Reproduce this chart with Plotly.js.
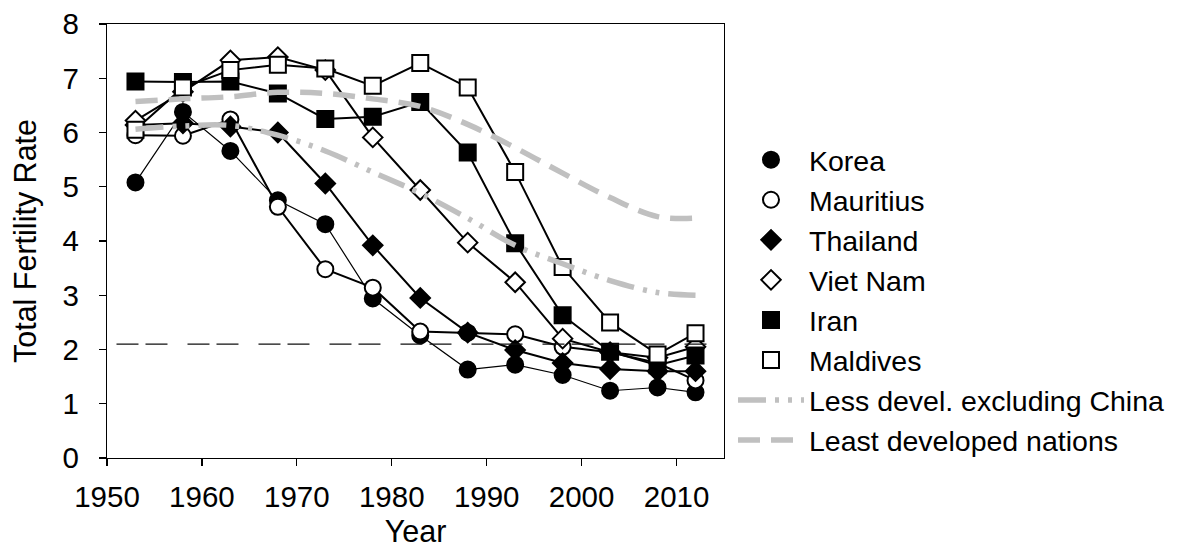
<!DOCTYPE html>
<html>
<head>
<meta charset="utf-8">
<script src="https://cdn.plot.ly/plotly-3.0.1.min.js"></script>
<style>html,body{margin:0;padding:0;background:#fff;}#chart{width:1185px;height:548px;}</style>
</head>
<body>
<div id="chart"></div>
<script>
const years = [1953,1958,1963,1968,1973,1978,1983,1988,1993,1998,2003,2008,2012];
const korea     = [5.08,6.38,5.66,4.75,4.31,2.94,2.26,1.63,1.72,1.53,1.24,1.30,1.21];
const mauritius = [5.95,5.94,6.24,4.63,3.48,3.14,2.33,2.31,2.28,2.05,1.95,1.75,1.43];
const thailand  = [6.14,6.17,6.11,6.00,5.06,3.92,2.95,2.31,1.99,1.75,1.64,1.60,1.60];
const vietnam   = [6.22,6.75,7.33,7.39,7.15,5.91,4.94,3.97,3.24,2.20,1.95,1.85,2.05];
const iran      = [6.94,6.93,6.94,6.72,6.25,6.29,6.56,5.63,3.96,2.63,1.96,1.71,1.89];
const maldives  = [6.05,6.83,7.15,7.25,7.18,6.86,7.28,6.83,5.27,3.52,2.50,1.91,2.30];
const lessDevelExChina = [6.06,6.12,6.13,5.95,5.66,5.27,4.88,4.42,3.92,3.58,3.27,3.05,3.00];
const leastDeveloped   = [6.57,6.62,6.66,6.74,6.72,6.62,6.48,6.15,5.72,5.25,4.80,4.45,4.42];
const replacementYears = [1951, 2013.5];
const replacementLevel = [2.1, 2.1];
const xTicks = [1950,1960,1970,1980,1990,2000,2010];
const yTicks = [0,1,2,3,4,5,6,7,8];

const FONT = 'Liberation Sans, Arial, sans-serif';
const countries = [
  {name:'Korea', y:korea, symbol:'circle', fill:'#000', size:16, lw:1.2},
  {name:'Mauritius', y:mauritius, symbol:'circle', fill:'#fff', size:16, lw:2},
  {name:'Thailand', y:thailand, symbol:'diamond', fill:'#000', size:15, lw:2},
  {name:'Viet Nam', y:vietnam, symbol:'diamond', fill:'#fff', size:15, lw:2},
  {name:'Iran', y:iran, symbol:'square', fill:'#000', size:16, lw:2},
  {name:'Maldives', y:maldives, symbol:'square', fill:'#fff', size:16, lw:2}
];
const traces = [];
countries.forEach(c => {
  traces.push({x:years, y:c.y, mode:'lines', showlegend:false, hoverinfo:'skip',
    line:{color:'#000', width:c.lw}});
  traces.push({x:years, y:c.y, mode:'markers', name:c.name,
    marker:{symbol:c.symbol, size:c.size, color:c.fill, line:{color:'#000', width:2}}});
});
traces.push({x:replacementYears, y:replacementLevel, mode:'lines', showlegend:false,
  line:{color:'#111', width:1.3, dash:'22px,7px,22px,20px'}});
traces.push({x:years, y:lessDevelExChina, mode:'lines', name:'Less devel. excluding China',
  line:{color:'#c0c0c0', width:5.5, shape:'spline', dash:'28px,9px,4px,9px,4px,9px'}});
traces.push({x:years, y:leastDeveloped, mode:'lines', name:'Least developed nations',
  line:{color:'#c0c0c0', width:5.5, shape:'spline', dash:'22px,11px'}});

const axisCommon = {showline:true, linecolor:'#000', linewidth:1.2, mirror:true,
  ticks:'outside', ticklen:7, tickcolor:'#000', tickwidth:1.2, showgrid:false, zeroline:false,
  tickfont:{family:FONT, size:29.5, color:'#000'}};

const layout = {
  width:1185, height:548,
  margin:{l:107, r:461, t:24, b:90, pad:0},
  paper_bgcolor:'#fff', plot_bgcolor:'#fff',
  font:{family:FONT, color:'#000', size:28},
  showlegend:true,
  legend:{x:1.0146, xanchor:'left', y:0.745, yanchor:'top', font:{family:FONT, size:28.5, color:'#000'},
    bgcolor:'rgba(0,0,0,0)', itemwidth:66, tracegroupgap:0},
  xaxis:Object.assign({}, axisCommon, {range:[1950,2015], tickvals:xTicks, ticklabelstandoff:5,
    title:{text:'Year', font:{family:FONT, size:30.5, color:'#000'}, standoff:17}}),
  yaxis:Object.assign({}, axisCommon, {range:[0,8], tickvals:yTicks, ticklabelstandoff:14,
    title:{text:'Total Fertility Rate', font:{family:FONT, size:30.5, color:'#000'}, standoff:16}})
};
Plotly.newPlot('chart', traces, layout, {displayModeBar:false, staticPlot:true});
</script>
</body>
</html>
